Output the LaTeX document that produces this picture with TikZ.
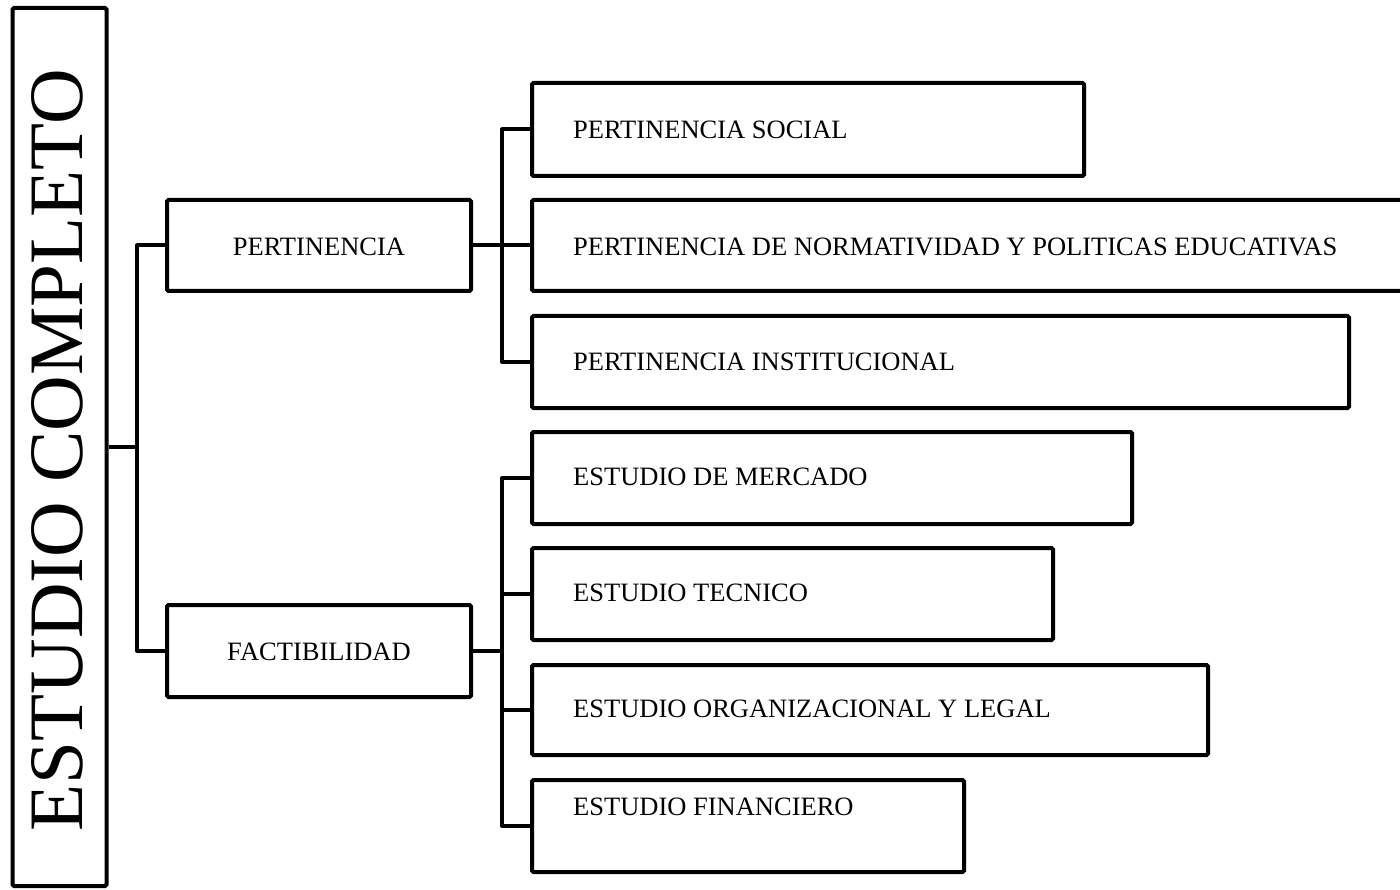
\documentclass[tikz,border=0pt]{standalone}
\usepackage{fontspec}
\setmainfont{Liberation Serif}
\begin{document}
\begin{tikzpicture}[x=1pt,y=-1pt,
  box/.style={draw=black, line width=4pt, rounded corners=1.5pt, inner sep=0pt, minimum height=92pt},
  conn/.style={draw=black, line width=4pt, line join=round},
  lbl/.style={font=\fontsize{26.5}{30}\selectfont, inner sep=0pt, anchor=west},
  clbl/.style={font=\fontsize{26.5}{30}\selectfont, inner sep=0pt},
  biglbl/.style={font=\fontsize{77}{80}\selectfont, inner sep=0pt, rotate=90}]
\useasboundingbox (0,0) rectangle (1400,890);
\clip (0,0) rectangle (1400,890);
\fill[white] (0,0) rectangle (1400,890);
% main box
\node[box, minimum width=94pt, minimum height=878pt] (main) at (59.5,447) {};
\node[biglbl] (maint) at (57.5,450) {ESTUDIO COMPLETO};
% level 1
\node[box, minimum width=304pt, minimum height=91pt] (pert) at (319,245.5) {};
\node[clbl] (pertt) at (319,247) {PERTINENCIA};
\node[box, minimum width=304pt] (fact) at (319,651) {};
\node[clbl] (factt) at (319,652) {FACTIBILIDAD};
% level 2
\node[box, minimum width=552pt, minimum height=93pt] (c1) at (808,129.5) {};
\node[box, minimum width=878pt, minimum height=91pt] (c2) at (971,245.5) {};
\node[box, minimum width=817pt] (c3) at (940.5,362) {};
\node[box, minimum width=600pt] (c4) at (832,478) {};
\node[box, minimum width=521pt] (c5) at (792.5,594) {};
\node[box, minimum width=676pt, minimum height=90pt] (c6) at (870,710) {};
\node[box, minimum width=432pt] (c7) at (748,826) {};
\node[lbl] (t1) at (573,130) {PERTINENCIA SOCIAL};
\node[lbl] (t2) at (573,247) {PERTINENCIA DE NORMATIVIDAD Y POLITICAS EDUCATIVAS};
\node[lbl] (t3) at (573,362) {PERTINENCIA INSTITUCIONAL};
\node[lbl] (t4) at (573,477) {ESTUDIO DE MERCADO};
\node[lbl] (t5) at (573,593) {ESTUDIO TECNICO};
\node[lbl] (t6) at (573,709) {ESTUDIO ORGANIZACIONAL Y LEGAL};
\node[lbl] (t7) at (573,807) {ESTUDIO FINANCIERO};
% connectors
\coordinate (j1) at (137,447);
\coordinate (j2) at (502,245.5);
\coordinate (j3) at (502,651);
\draw[conn] (main.east) -- (j1);
\draw[conn] (pert.west) -| (j1) |- (fact.west);
\draw[conn] (pert.east) -- (c2.west);
\draw[conn] (c1.west) -| (j2) |- (c3.west);
\draw[conn] (fact.east) -- (j3);
\draw[conn] (c4.west) -| (j3) |- (c7.west);
\draw[conn] (c5.west -| j3) -- (c5.west);
\draw[conn] (c6.west -| j3) -- (c6.west);
\end{tikzpicture}
\end{document}
